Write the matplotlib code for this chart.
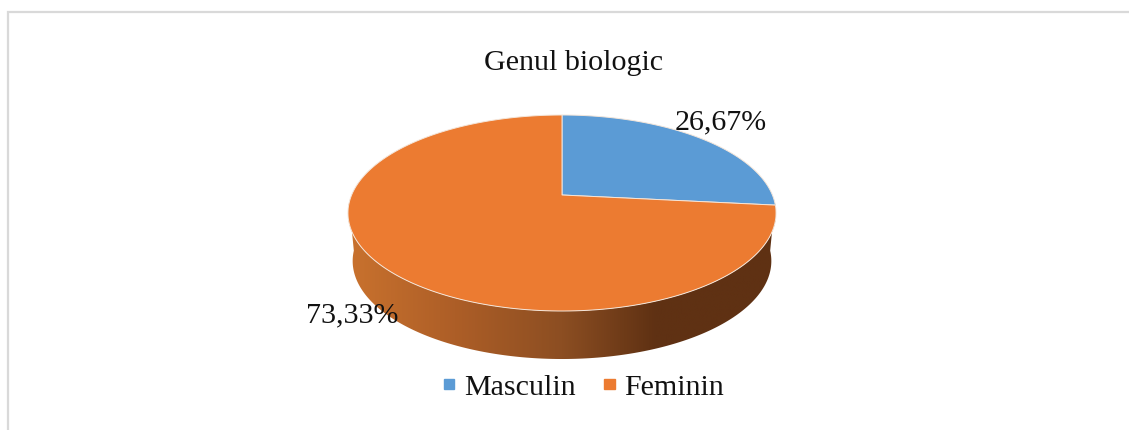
import numpy as np
import matplotlib
matplotlib.use('Agg')
import matplotlib.pyplot as plt
from matplotlib.colors import LinearSegmentedColormap
from matplotlib.patches import Patch, Polygon

categories = ['Masculin', 'Feminin']
shares = [26.67, 73.33]
labels = ['26,67%', '73,33%']
colors = ['#5B9BD5', '#EC7B31']
title = 'Genul biologic'

plt.rcParams['font.family'] = ['Liberation Serif', 'DejaVu Serif']

#pie geometry, in pixels of the picture
cx, cy = 562, 195
scale_x, scale_y = 210.4, 94.7
tilt = 0.1837
depth = 48
text_size = 21.6


#maps a point on the flat disc to the tilted pie (near side looks bigger)
def project(theta, r=1.0, shrink=1.0, drop=0):
    u = r * np.sin(theta)
    v = r * np.cos(theta)
    w = 1 + tilt * v
    return cx + shrink * scale_x * u / w, cy + drop - scale_y * v / w


fig = plt.figure(figsize=(11.29, 4.30), dpi=100)
ax = fig.add_axes([0, 0, 1, 1])
ax.set_xlim(0, 1129)
ax.set_ylim(430, 0)
ax.axis('off')

#frame of the chart, only top and left are visible
ax.plot([7.5, 7.5, 1129], [430, 11.5, 11.5], color='#D9D9D9', lw=1.6, solid_joinstyle='miter')

#side of the pie: gradient clipped to the front part of the rim
front = np.linspace(np.pi / 2 + 0.08, 3 * np.pi / 2 - 0.08, 200)
bx, by = project(front, shrink=0.978, drop=depth)
tx, ty = project(front)
rim_x = np.concatenate([bx, tx[::-1]])
rim_y = np.concatenate([by, ty[::-1]])

side_cmap = LinearSegmentedColormap.from_list('side', [
    (0.0, '#C9722E'), (0.25, '#AD5E27'), (0.5, '#8C4E22'), (0.72, '#5F3113'), (1.0, '#5F3113')])
grad = ax.imshow(np.linspace(0, 1, 256).reshape(1, -1), cmap=side_cmap, aspect='auto',
                 extent=[348, 776, 362, 200], zorder=2)
clip = Polygon(np.column_stack([rim_x, rim_y]), closed=True, transform=ax.transData)
grad.set_clip_path(clip)
ax.set_xlim(0, 1129)
ax.set_ylim(430, 0)

#slices, clockwise from the top
start = 0.0
for share, color in zip(shares, colors):
    stop = start + share / sum(shares) * 2 * np.pi
    arc = np.linspace(start, stop, 200)
    x, y = project(arc)
    ax.fill(np.r_[cx, x], np.r_[cy, y], color=color, ec='#F4E6DA', lw=0.7, zorder=3)
    start = stop

ax.text(573.5, 63, title, fontsize=text_size, ha='center', va='center', color='#111111')
ax.text(720.5, 122, labels[0], fontsize=text_size, ha='center', va='center', color='#111111', zorder=5)
ax.text(352.5, 315, labels[1], fontsize=text_size, ha='center', va='center', color='#111111', zorder=5)

handles = [Patch(color=c, label=n) for c, n in zip(colors, categories)]
ax.legend(handles=handles, ncol=2, frameon=False, fontsize=text_size, loc='center',
          bbox_to_anchor=(584 / 1129, 1 - 388 / 430), handlelength=0.34, handleheight=0.13,
          handletextpad=0.33, columnspacing=0.97, labelcolor='#111111')

fig.savefig('out.png', dpi=100)
